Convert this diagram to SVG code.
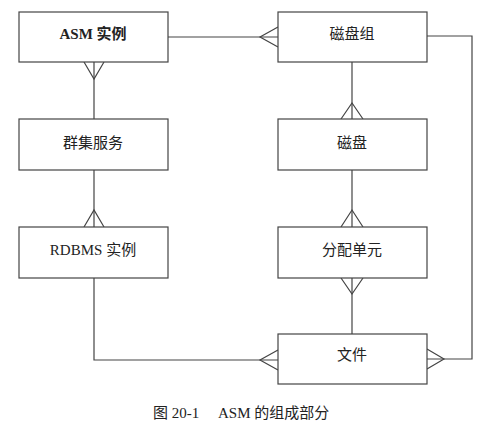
<svg xmlns="http://www.w3.org/2000/svg" width="496" height="438" viewBox="0 0 496 438">
<style>
.box{fill:#fff;stroke:#444;stroke-width:1.2}
.lbl{font-family:"Liberation Serif","Noto Sans CJK SC",serif;font-size:15px;fill:#222;text-anchor:middle}
.cap{font-family:"Liberation Serif","Noto Sans CJK SC",serif;font-size:15px;fill:#222}
.ln{fill:none;stroke:#444;stroke-width:1.2}
</style>
<rect width="496" height="438" fill="#fff"/>
<g id="connectors">
<path class="ln" d="M168,37 H278"/>
<path class="ln" d="M278,27 L260,37 L278,47"/>
<path class="ln" d="M94,62 V119"/>
<path class="ln" d="M84,62 L94,79 L104,62"/>
<path class="ln" d="M94,170 V227"/>
<path class="ln" d="M84,227 L94,210 L104,227"/>
<path class="ln" d="M352,62 V119"/>
<path class="ln" d="M341,119 L352,103 L363,119"/>
<path class="ln" d="M352,170 V227"/>
<path class="ln" d="M341,227 L352,210 L363,227"/>
<path class="ln" d="M352,278 V334"/>
<path class="ln" d="M341,278 L352,294 L363,278"/>
<path class="ln" d="M94,278 V360 H278"/>
<path class="ln" d="M278,350 L260,360 L278,370"/>
<path class="ln" d="M427,36 H472 V359 H427"/>
<path class="ln" d="M427,349 L444,359 L427,369"/>
</g>
<g id="asm"><rect class="box" x="19" y="12" width="149" height="50"/><text class="lbl" x="93" y="39" font-weight="bold">ASM 实例</text></g>
<g id="cluster"><rect class="box" x="19" y="119" width="149" height="51"/><text class="lbl" x="93" y="148">群集服务</text></g>
<g id="rdbms"><rect class="box" x="19" y="227" width="149" height="51"/><text class="lbl" x="93" y="255">RDBMS 实例</text></g>
<g id="diskgroup"><rect class="box" x="278" y="12" width="149" height="50"/><text class="lbl" x="352" y="39">磁盘组</text></g>
<g id="disk"><rect class="box" x="278" y="119" width="149" height="51"/><text class="lbl" x="352" y="148">磁盘</text></g>
<g id="au"><rect class="box" x="278" y="227" width="149" height="51"/><text class="lbl" x="352" y="255">分配单元</text></g>
<g id="file"><rect class="box" x="278" y="334" width="149" height="50"/><text class="lbl" x="352" y="360">文件</text></g>
<g id="caption"><text class="cap" x="153" y="418">图 20-1</text><text class="cap" x="218" y="418">ASM 的组成部分</text></g>
</svg>
